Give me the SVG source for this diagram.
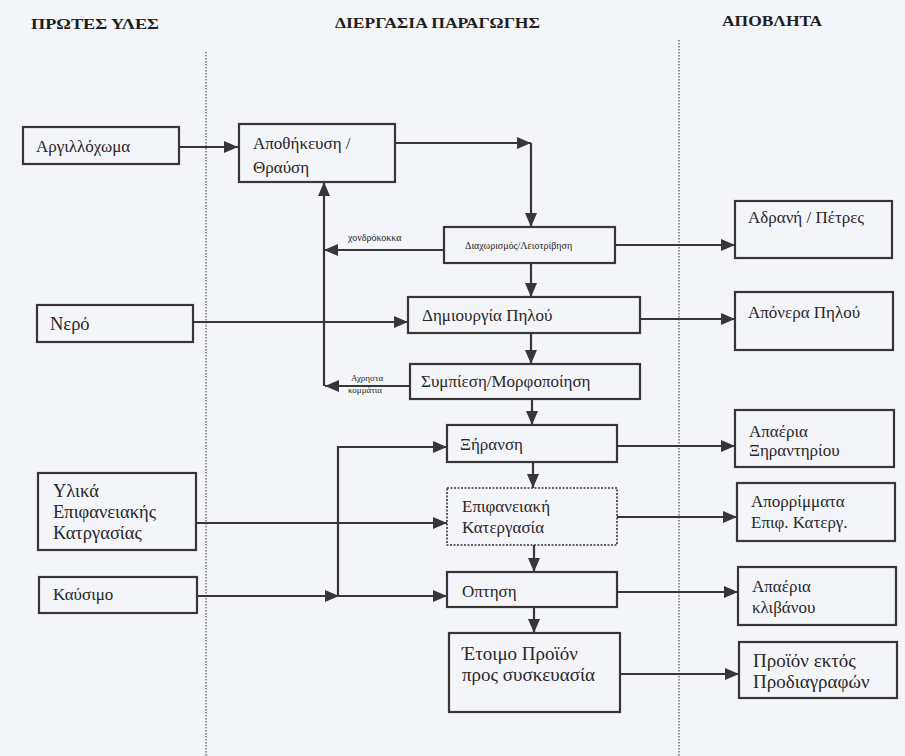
<svg xmlns="http://www.w3.org/2000/svg" width="905" height="756" viewBox="0 0 905 756">
<style>
.bg{fill:#f3f5f9}
.box{fill:none;stroke:#3a3536;stroke-width:2.2}
.dot{fill:none;stroke:#3a3536;stroke-width:1.6;stroke-dasharray:2 1.5}
.sep{fill:none;stroke:#555;stroke-width:1.2;stroke-dasharray:1.5 1.5}
.t{font-family:"Liberation Serif","DejaVu Serif",serif;fill:#2a2627;font-size:17px}
.m{font-size:17px}
.s{font-size:10px}
.xs{font-size:9px}
.l{font-size:19px}
.b{font-size:18.5px}
.h{font-family:"Liberation Serif","DejaVu Serif",serif;fill:#1e1e1e;font-size:15px;font-weight:bold}
.c{fill:none;stroke:#3a3536;stroke-width:2.2;marker-end:url(#a)}
</style>
<defs>
<marker id="a" markerUnits="userSpaceOnUse" markerWidth="14" markerHeight="13" viewBox="0 0 14 13" refX="14" refY="6.5" orient="auto">
<path d="M0,0.5 L14,6.5 L0,12.5 Z" fill="#3a3536"/>
</marker>
</defs>
<rect class="bg" x="0" y="0" width="905" height="756"/>
<g id="headers">
<text class="h" x="31" y="29" textLength="128" lengthAdjust="spacingAndGlyphs">ΠΡΩΤΕΣ ΥΛΕΣ</text>
<text class="h" x="335" y="28" textLength="205" lengthAdjust="spacingAndGlyphs">ΔΙΕΡΓΑΣΙΑ ΠΑΡΑΓΩΓΗΣ</text>
<text class="h" x="722" y="26" textLength="100" lengthAdjust="spacingAndGlyphs">ΑΠΟΒΛΗΤΑ</text>
</g>
<g id="separators">
<line class="sep" x1="206" y1="52" x2="206" y2="756"/>
<line class="sep" x1="679" y1="40" x2="679" y2="756"/>
</g>
<g id="connectors">
<path class="c" d="M179 147 H238"/>
<path class="c" d="M395 143 H531"/>
<path class="c" d="M531 143 V227"/>
<path class="c" d="M444 250 H324"/>
<path class="c" d="M324 386 V182"/>
<path class="c" d="M615 245 H735"/>
<path class="c" d="M531 263 V297"/>
<path class="c" d="M193 322 H408"/>
<path class="c" d="M640 319 H735"/>
<path class="c" d="M531 333 V364"/>
<path class="c" d="M410 386 H325"/>
<path class="c" d="M532 399 V425"/>
<path class="c" d="M617 446 H735"/>
<path class="c" d="M533 462 V488"/>
<path class="c" d="M617 517 H737"/>
<path class="c" d="M534 545 V572"/>
<path class="c" d="M617 592 H738"/>
<path class="c" d="M534 607 V633"/>
<path class="c" d="M620 674 H739"/>
<path class="c" d="M196 523 H447"/>
<path class="c" d="M197 596 H339"/>
<path class="c" d="M338 596 V447 H447"/>
<path class="c" d="M338 596 H447"/>
<text class="t s" x="348" y="241">χονδρόκοκκα</text>
<text class="t xs" x="351" y="381">Αχρηστα</text>
<text class="t xs" x="348" y="393">κομμάτια</text>
</g>
<g id="n1"><rect class="box" x="23" y="127" width="156" height="37"/><text class="t" x="36" y="152">Αργιλλόχωμα</text></g>
<g id="n2"><rect class="box" x="239" y="124" width="156" height="58"/><text class="t m" x="253" y="149">Αποθήκευση /</text><text class="t m" x="253" y="173">Θραύση</text></g>
<g id="n3"><rect class="box" x="444" y="227" width="171" height="36"/><text class="t s" x="465" y="249">Διαχωρισμός/Λειοτρίβηση</text></g>
<g id="n4"><rect class="box" x="735" y="201" width="157" height="57"/><text class="t" x="748" y="223">Αδρανή / Πέτρες</text></g>
<g id="n5"><rect class="box" x="37" y="305" width="156" height="37"/><text class="t b" x="50" y="330">Νερό</text></g>
<g id="n6"><rect class="box" x="408" y="297" width="232" height="36"/><text class="t" x="422" y="321">Δημιουργία Πηλού</text></g>
<g id="n7"><rect class="box" x="735" y="292" width="158" height="58"/><text class="t m" x="748" y="318">Απόνερα Πηλού</text></g>
<g id="n8"><rect class="box" x="410" y="364" width="230" height="35"/><text class="t" x="421" y="387">Συμπίεση/Μορφοποίηση</text></g>
<g id="n9"><rect class="box" x="447" y="425" width="170" height="37"/><text class="t m" x="460" y="450">Ξήρανση</text></g>
<g id="n10"><rect class="box" x="735" y="410" width="159" height="57"/><text class="t m" x="749" y="437">Απαέρια</text><text class="t m" x="749" y="456">Ξηραντηρίου</text></g>
<g id="n11"><rect class="box" x="38" y="473" width="158" height="77"/><text class="t b" x="53" y="497">Υλικά</text><text class="t b" x="53" y="518">Επιφανειακής</text><text class="t b" x="53" y="539">Κατργασίας</text></g>
<g id="n12"><rect class="dot" x="447" y="488" width="170" height="57"/><text class="t m" x="462" y="512">Επιφανειακή</text><text class="t m" x="462" y="533">Κατεργασία</text></g>
<g id="n13"><rect class="box" x="737" y="483" width="158" height="58"/><text class="t m" x="751" y="507">Απορρίμματα</text><text class="t m" x="751" y="528">Επιφ. Κατεργ.</text></g>
<g id="n14"><rect class="box" x="39" y="577" width="158" height="36"/><text class="t" x="53" y="600">Καύσιμο</text></g>
<g id="n15"><rect class="box" x="447" y="572" width="170" height="35"/><text class="t m" x="462" y="597">Οπτηση</text></g>
<g id="n16"><rect class="box" x="738" y="567" width="158" height="58"/><text class="t m" x="752" y="592">Απαέρια</text><text class="t m" x="752" y="613">κλιβάνου</text></g>
<g id="n17"><rect class="box" x="449" y="633" width="171" height="79"/><text class="t l" x="462" y="660">Έτοιμο Προϊόν</text><text class="t l" x="462" y="681">προς συσκευασία</text></g>
<g id="n18"><rect class="box" x="739" y="642" width="158" height="56"/><text class="t l" x="753" y="667">Προϊόν εκτός</text><text class="t l" x="753" y="688">Προδιαγραφών</text></g>
</svg>
